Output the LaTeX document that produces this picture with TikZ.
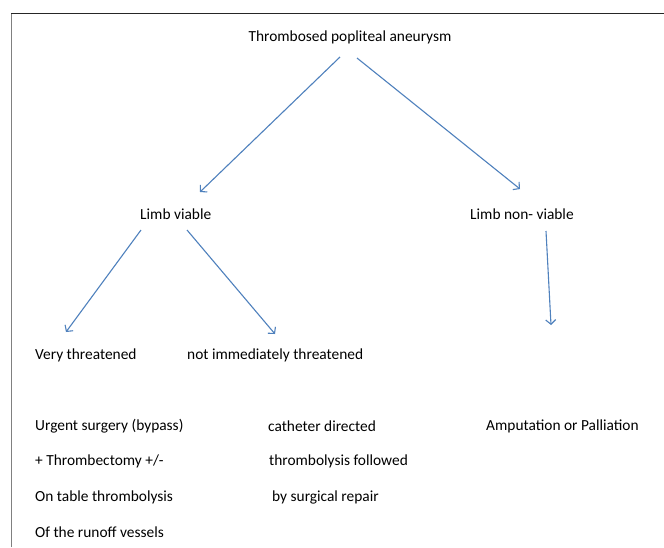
\documentclass[tikz,border=0pt]{standalone}
\usepackage{fontspec}
\setmainfont{Carlito}
\usetikzlibrary{arrows.meta}
\definecolor{arrowblue}{HTML}{4F81BD}
\tikzset{
  lbl/.style={anchor=west, inner sep=0pt, font=\fontsize{15.4}{18}\selectfont, text=black},
  arr/.style={draw=arrowblue, line width=1.1pt, -{Straight Barb[length=4.5pt,width=10pt]}},
}
\begin{document}
\begin{tikzpicture}[x=1pt,y=-1pt]
\useasboundingbox (0,0) rectangle (664,547);
\fill[white] (0,0) rectangle (664,547);
\draw[gray, line width=1pt] (11.5,547) -- (11.5,13.5);
\draw[black!85, line width=1pt] (11,13.5) -- (664,13.5);

\node[lbl, anchor=center] (top) at (350,37) {Thrombosed popliteal aneurysm};
\node[lbl] (lv) at (140,214) {Limb viable};
\node[lbl] (lnv) at (470,214) {Limb non- viable};
\node[lbl] (vt) at (35,355) {Very threatened};
\node[lbl] (nit) at (187,355) {not immediately threatened};

\node[lbl] (u1) at (35,426) {Urgent surgery (bypass)};
\node[lbl] (u2) at (35,461) {+ Thrombectomy +/-};
\node[lbl] (u3) at (35,497) {On table thrombolysis};
\node[lbl] (u4) at (35,532) {Of the runoff vessels};

\node[lbl] (c1) at (268,426) {catheter directed};
\node[lbl] (c2) at (269,461) {thrombolysis followed};
\node[lbl] (c3) at (272,497) {by surgical repair};

\node[lbl] (amp) at (486,426) {Amputation or Palliation};

\coordinate (a1s) at (340,57);
\coordinate (a1e) at (200,192);
\coordinate (a2s) at (357,58);
\coordinate (a2e) at (520,189);
\coordinate (a3s) at (141,230);
\coordinate (a3e) at (66,332);
\coordinate (a4s) at (187,230);
\coordinate (a4e) at (275,334);
\coordinate (a5s) at (546,231);
\coordinate (a5e) at (551,325);

\draw[arr] (a1s) -- (a1e);
\draw[arr] (a2s) -- (a2e);
\draw[arr] (a3s) -- (a3e);
\draw[arr] (a4s) -- (a4e);
\draw[arr] (a5s) -- (a5e);
\end{tikzpicture}
\end{document}
